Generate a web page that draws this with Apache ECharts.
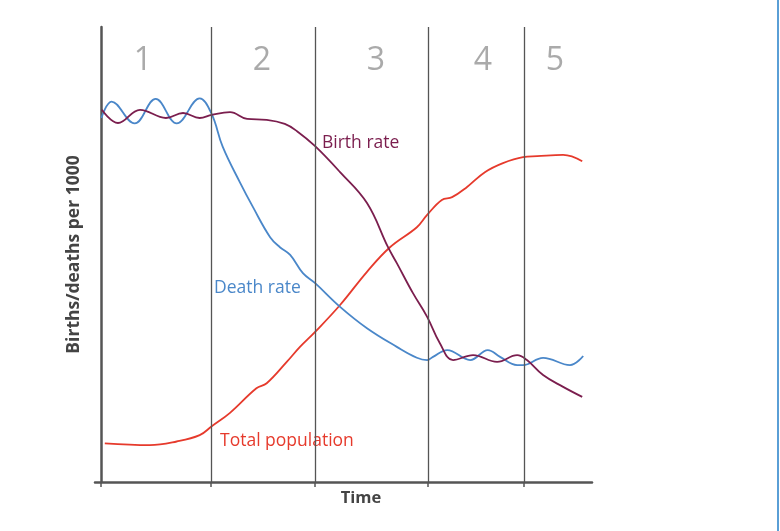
<!DOCTYPE html>
<html>
<head>
<meta charset="utf-8">
<script src="https://cdn.jsdelivr.net/npm/echarts@6/dist/echarts.min.js"></script>
<style>
  html, body { margin: 0; padding: 0; background: #fff; }
  #chart { width: 780px; height: 531px; }
</style>
</head>
<body>
<div id="chart"></div>
<script>
// time runs 0..100, rates on a 0..100 scale
const stageBounds = [22.5, 43.8, 66.9, 86.5];
const stageNames = ["1", "2", "3", "4", "5"];
const stageMid = [8.6, 32.9, 56.2, 78.1, 92.8];

const birthRate = [
  [0.2, 81.8], [3.5, 78.9], [8.0, 81.8], [13.3, 80.0], [16.8, 81.1], [20.2, 80.0],
  [22.7, 80.7], [26.4, 81.3], [29.9, 79.8], [33.9, 79.6], [37.6, 78.7], [40.1, 77.1],
  [43.8, 73.8], [48.9, 68.1], [54.4, 61.3], [58.7, 51.6], [60.5, 48.1],
  [63.8, 41.5], [66.7, 36.3], [69.3, 30.5], [72.0, 26.8], [76.1, 27.9], [81.0, 26.4],
  [85.1, 27.9], [87.1, 26.8], [90.4, 23.5], [94.5, 20.9], [98.4, 18.7]
];

const deathRate = [
  [0.1, 80.0], [2.2, 83.6], [6.9, 78.8], [11.2, 84.2], [15.5, 78.8], [20.2, 84.3],
  [22.6, 81.0], [24.9, 73.7], [28.4, 65.9], [31.1, 60.4], [34.6, 53.8], [36.6, 51.6],
  [38.7, 49.9], [41.3, 45.9], [43.8, 43.7], [48.9, 38.5], [54.4, 33.8], [60.5, 29.7],
  [64.6, 27.3], [66.7, 26.8], [67.9, 27.5], [70.8, 29.0], [75.5, 26.8], [79.1, 29.0],
  [81.6, 27.5], [85.1, 25.7], [86.3, 25.7], [90.4, 27.3], [95.9, 25.7], [98.6, 27.7]
];

const totalPopulation = [
  [0.8, 8.5], [10.0, 8.1], [15.5, 8.9], [20.2, 10.3], [22.6, 12.2], [26.4, 15.2],
  [31.8, 20.6], [33.9, 21.7], [38.0, 26.4], [40.7, 29.7], [43.8, 33.0], [48.9, 38.9],
  [54.4, 46.2], [59.1, 51.6], [64.6, 56.0], [66.7, 58.7], [69.7, 62.0], [71.8, 62.6],
  [74.8, 64.8], [78.5, 68.1], [82.2, 70.1], [86.3, 71.4], [89.2, 71.6], [94.5, 71.9],
  [98.4, 70.5]
];

const axisColor = "#555";
const font = "'Open Sans', 'Noto Sans', sans-serif";

const chart = echarts.init(document.getElementById("chart"));

const lineSeries = (name, data, color) => ({
  name: name,
  type: "line",
  data: data,
  smooth: 0.4,
  showSymbol: false,
  symbol: "none",
  silent: true,
  lineStyle: { color: color, width: 1.8 },
  z: 3,
});

const option = {
  animation: false,
  backgroundColor: "#fff",
  grid: {
    left: 95,
    right: 188,
    top: 27,
    bottom: 49,
    containLabel: false,
    outerBoundsMode: "none",
  },
  xAxis: {
    type: "value",
    min: -1.2,
    max: 100.4,
    name: "Time",
    nameLocation: "middle",
    nameGap: 8,
    nameTextStyle: {
      fontFamily: font,
      fontWeight: "bold",
      fontSize: 16.5,
      color: "#444",
      padding: [0, 0, 0, 35],
    },
    axisLine: { show: true, lineStyle: { color: axisColor, width: 2.5 } },
    axisTick: {
      show: true,
      customValues: [0].concat(stageBounds),
      length: 5,
      lineStyle: { color: axisColor, width: 1.5 },
    },
    axisLabel: { show: false },
    splitLine: { show: false },
  },
  yAxis: {
    type: "value",
    min: 0,
    max: 100,
    name: "Births/deaths per 1000",
    nameLocation: "middle",
    nameGap: 12,
    nameTextStyle: {
      fontFamily: font,
      fontWeight: "bold",
      fontSize: 17.5,
      color: "#444",
    },
    axisLine: { show: true, onZero: true, lineStyle: { color: axisColor, width: 2.5 } },
    axisTick: { show: false },
    axisLabel: { show: false },
    splitLine: { show: false },
  },
  series: [
    {
      name: "stages",
      type: "scatter",
      data: stageMid.map((x, i) => ({ value: [x, 92.6], name: stageNames[i] })),
      symbolSize: 0,
      silent: true,
      label: {
        show: true,
        position: "inside",
        formatter: "{b}",
        fontFamily: font,
        fontSize: 32,
        color: "#959595",
      },
      markLine: {
        silent: true,
        symbol: ["none", "none"],
        label: { show: false },
        lineStyle: { color: axisColor, width: 1.3, type: "solid" },
        data: stageBounds.map((x) => ({ xAxis: x })),
      },
      z: 1,
    },
    lineSeries("Total population", totalPopulation, "#e63a2c"),
    lineSeries("Death rate", deathRate, "#4a87c9"),
    lineSeries("Birth rate", birthRate, "#7b1e4e"),
  ],
  graphic: [
    {
      type: "text",
      left: 322,
      top: 134,
      style: { text: "Birth rate", font: "17.5px " + font, fill: "#7b1e4e" },
    },
    {
      type: "text",
      left: 214,
      top: 279,
      style: { text: "Death rate", font: "17.5px " + font, fill: "#4a87c9" },
    },
    {
      type: "text",
      left: 220,
      top: 432,
      style: { text: "Total population", font: "17.5px " + font, fill: "#e63a2c" },
    },
    {
      type: "rect",
      left: 777,
      top: 0,
      shape: { width: 2, height: 531 },
      style: { fill: "#5a9fd6" },
    },
  ],
};

chart.setOption(option);
</script>
</body>
</html>
